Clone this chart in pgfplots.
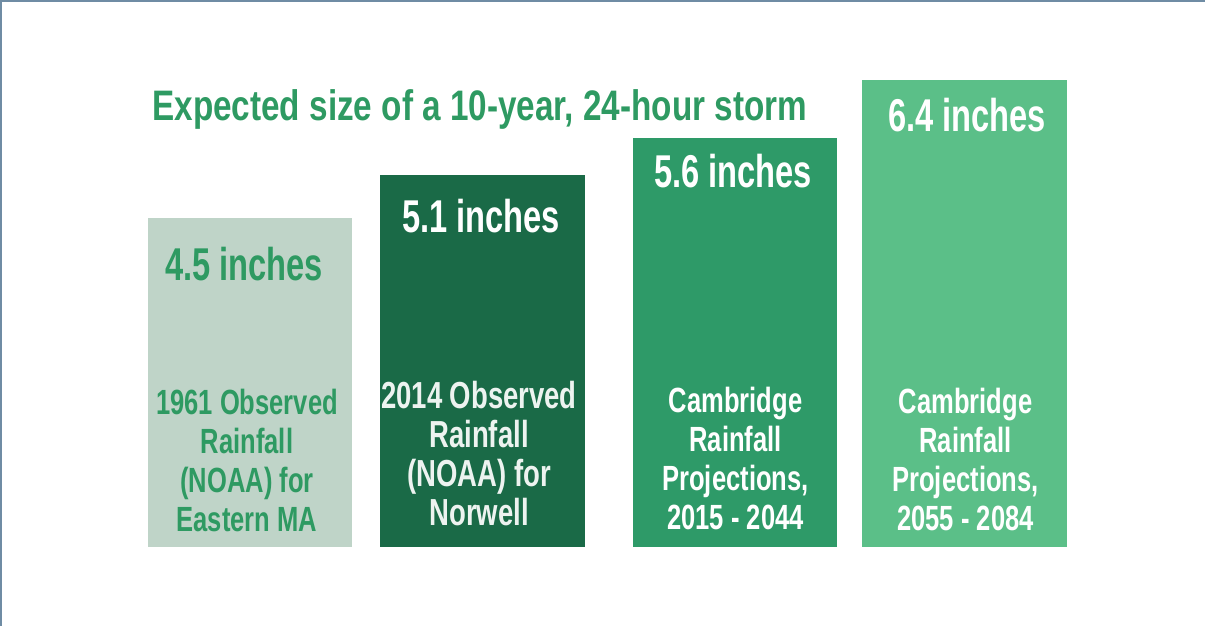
\documentclass[border=0pt]{standalone}
\usepackage{pgfplots}
\pgfplotsset{compat=1.18}
\usepackage{fontspec}
\setmainfont{Liberation Sans}
\newfontfamily\tfont{Liberation Sans}[FakeStretch=0.78]
\newfontfamily\vfont{Liberation Sans}[FakeStretch=0.71]
\newfontfamily\lfont{Liberation Sans}[FakeStretch=0.73]
\definecolor{bA}{HTML}{BFD4C8}
\definecolor{bB}{HTML}{1A6A47}
\definecolor{bC}{HTML}{2E9A68}
\definecolor{bD}{HTML}{5BBF88}
\definecolor{tg}{HTML}{2E9A62}
\definecolor{frm}{HTML}{6F8CA4}
\begin{document}
\begin{tikzpicture}
\begin{axis}[
  scale only axis, width=723pt, height=375.6pt,
  xmin=0, xmax=1205, ymin=-1.0822, ymax=7.4932,
  axis lines=none, ybar, bar width=122.7pt,
  clip=false,
]
\coordinate (SW) at (rel axis cs:0,0);
\coordinate (NE) at (rel axis cs:1,1);
\addplot[fill=bA, draw=none, bar shift=0pt] coordinates {(250,4.5)};
\addplot[fill=bB, draw=none, bar shift=0pt] coordinates {(482.5,5.1)};
\addplot[fill=bC, draw=none, bar shift=0pt] coordinates {(735,5.6)};
\addplot[fill=bD, draw=none, bar shift=0pt] coordinates {(964.5,6.4)};
% title
\node[anchor=base west, inner sep=0pt, text=tg, font=\tfont\bfseries\fontsize{25.6}{28}\selectfont]
  at (axis cs:152,{(547-121)/73}) {Expected size of a 10-year, 24-hour storm};
% value labels
\node[anchor=base, inner sep=0pt, text=tg, font=\vfont\bfseries\fontsize{27.6}{30}\selectfont]
  at (axis cs:244,{(547-281)/73}) {4.5 inches};
\node[anchor=base, inner sep=0pt, text=white, font=\vfont\bfseries\fontsize{27.6}{30}\selectfont]
  at (axis cs:481,{(547-232)/73}) {5.1 inches};
\node[anchor=base, inner sep=0pt, text=white, font=\vfont\bfseries\fontsize{27.6}{30}\selectfont]
  at (axis cs:733,{(547-188)/73}) {5.6 inches};
\node[anchor=base, inner sep=0pt, text=white, font=\vfont\bfseries\fontsize{27.6}{30}\selectfont]
  at (axis cs:967,{(547-131)/73}) {6.4 inches};
% category labels bar 1
\tikzset{lab/.style={anchor=base, inner sep=0pt, font=\lfont\bfseries\fontsize{21}{23}\selectfont}}
\node[lab, text=tg] at (axis cs:247,{(547-414)/73}) {1961 Observed};
\node[lab, text=tg] at (axis cs:247,{(547-453)/73}) {Rainfall};
\node[lab, text=tg] at (axis cs:247,{(547-492)/73}) {(NOAA) for};
\node[lab, text=tg] at (axis cs:247,{(547-531)/73}) {Eastern MA};
% bar 2
\tikzset{labB/.style={anchor=base, inner sep=0pt, text=white!92!bB, font=\lfont\bfseries\fontsize{22.6}{24}\selectfont}}
\node[labB] at (axis cs:479,{(547-408)/73}) {2014 Observed};
\node[labB] at (axis cs:479,{(547-447)/73}) {Rainfall};
\node[labB] at (axis cs:479,{(547-486)/73}) {(NOAA) for};
\node[labB] at (axis cs:479,{(547-525)/73}) {Norwell};
% bar 3
\node[lab, text=white] at (axis cs:735.5,{(547-412)/73}) {Cambridge};
\node[lab, text=white] at (axis cs:735.5,{(547-451)/73}) {Rainfall};
\node[lab, text=white] at (axis cs:735.5,{(547-490)/73}) {Projections,};
\node[lab, text=white] at (axis cs:735.5,{(547-529)/73}) {2015 - 2044};
% bar 4
\node[lab, text=white] at (axis cs:965.5,{(547-413)/73}) {Cambridge};
\node[lab, text=white] at (axis cs:965.5,{(547-452)/73}) {Rainfall};
\node[lab, text=white] at (axis cs:965.5,{(547-491)/73}) {Projections,};
\node[lab, text=white] at (axis cs:965.5,{(547-530)/73}) {2055 - 2084};
\end{axis}
\draw[frm, line width=2.4pt] (SW) -- (SW |- NE) -- (NE);
\pgfresetboundingbox
\useasboundingbox (SW) rectangle (NE);
\end{tikzpicture}
\end{document}
